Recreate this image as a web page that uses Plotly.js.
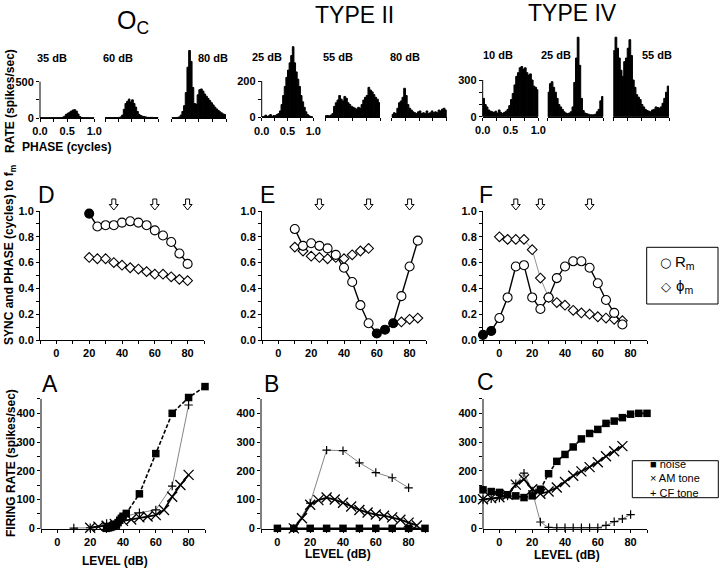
<!DOCTYPE html>
<html>
<head>
<meta charset="utf-8">
<script src="https://cdn.plot.ly/plotly-3.0.1.min.js"></script>
<style>html,body{margin:0;padding:0;background:#fff;}#chart{width:720px;height:570px;}</style>
</head>
<body>
<div id="chart"></div>
<script>
// ---------- DATA ----------
// phase bins (cycles) for period histograms
const phaseBins = [0.015625,0.046875,0.078125,0.109375,0.140625,0.171875,0.203125,0.234375,0.265625,0.296875,0.328125,0.359375,0.390625,0.421875,0.453125,0.484375,0.515625,0.546875,0.578125,0.609375,0.640625,0.671875,0.703125,0.734375,0.765625,0.796875,0.828125,0.859375,0.890625,0.921875,0.953125,0.984375];
// O_C histograms (spikes/sec)
const histOc35 = [4,4,3,4,3,4,3,4,4,3,4,4,5,10,25,50,65,80,95,110,115,95,55,20,8,3,3,3,3,2,2,2];
const histOc60 = [5,5,6,5,5,6,5,5,8,15,40,120,200,230,260,220,250,200,150,90,50,35,25,20,15,8,8,8,8,6,6,6];
const histOc80 = [5,5,5,8,15,40,90,170,350,700,930,780,420,200,190,320,390,400,370,330,300,270,240,210,180,150,125,105,85,70,55,45];
// TYPE II histograms
const histII25 = [3,5,12,5,8,15,5,10,8,15,20,35,70,120,170,220,260,300,340,389,300,250,210,170,120,85,55,30,15,8,4,2];
const histII55 = [8,10,8,12,20,60,80,95,120,100,90,115,105,80,70,60,55,50,45,55,50,70,95,110,120,165,150,140,125,110,100,80];
const histII80 = [15,25,20,50,80,90,110,160,120,70,50,40,30,25,20,30,35,20,25,20,35,20,25,35,25,30,25,40,35,45,50,40];
// TYPE IV histograms
const histIV10 = [150,100,80,55,45,40,35,45,30,55,35,25,35,45,60,90,140,190,260,330,360,400,410,390,400,360,340,350,300,250,240,220];
const histIV25 = [200,270,286,240,200,150,100,80,60,40,30,25,30,40,80,280,480,650,420,150,50,30,25,20,15,15,15,20,40,60,130,165];
const histIV55 = [540,650,560,480,380,330,450,480,560,630,500,300,240,180,160,140,100,80,60,50,45,40,55,60,80,75,70,80,110,150,200,250];

// Panel D (O_C): sync (R_m) and phase (phi_m) vs level
const dLevels = [20,25,30,35,40,45,50,55,60,65,70,75,80];
const dSync   = [0.98,0.88,0.89,0.89,0.91,0.92,0.91,0.89,0.85,0.81,0.76,0.67,0.59];
const dPhase  = [0.64,0.63,0.63,0.60,0.58,0.56,0.55,0.53,0.51,0.51,0.49,0.47,0.46];
const dNotSig = [20];
const dArrows = [35,60,80];
// Panel E (TYPE II)
const eLevels = [10,15,20,25,30,35,40,45,50,55,60,65,70,75,80,85];
const eSync   = [0.86,0.73,0.75,0.73,0.71,0.66,0.56,0.45,0.27,0.13,0.05,0.08,0.13,0.34,0.57,0.77];
const ePhaseLevels = [10,15,20,25,30,35,40,45,50,55,75,80,85];
const ePhase  = [0.72,0.69,0.65,0.64,0.63,0.64,0.63,0.66,0.69,0.71,0.14,0.16,0.17];
const eNotSig = [60,65,70];
const eArrows = [25,55,80];
// Panel F (TYPE IV)
const fLevels = [-10,-5,0,5,10,15,20,25,30,35,40,45,50,55,60,65,70,75];
const fSync   = [0.04,0.07,0.17,0.33,0.57,0.58,0.33,0.24,0.33,0.48,0.57,0.61,0.61,0.56,0.44,0.31,0.21,0.12];
const fPhaseLevels = [0,5,10,15,20,25,30,35,40,45,50,55,60,65,70,75];
const fPhase  = [0.80,0.78,0.78,0.78,0.70,0.48,0.33,0.29,0.27,0.23,0.21,0.20,0.18,0.17,0.16,0.15];
const fNotSig = [-10,-5];
const fArrows = [10,25,55];

// Panel A (O_C) firing rate vs level
const aNoiseLevels = [30,31,32,33,34,35,36,37,38,39,40,42,50,60,70,80,90];
const aNoise = [0,2,3,5,7,10,14,20,28,35,42,52,120,260,400,455,493];
const aAMLevels = [20,25,30,35,40,45,50,55,60,65,70,75,80];
const aAM = [2,6,9,15,26,31,38,41,46,64,110,151,186];
const aCFLevels = [10,20,30,40,50,60,70,80];
const aCF = [1,2,17,40,54,64,147,429];
// Panel B (TYPE II)
const bNoiseLevels = [0,10,20,30,40,50,60,70,80,90];
const bNoise = [0,0,0,0,0,0,0,0,0,0];
const bAMLevels = [10,15,20,25,30,35,40,45,50,55,60,65,70,75,80,85];
const bAM = [0,35,82,98,107,100,89,76,64,55,48,44,38,30,20,10];
const bCFLevels = [10,20,30,40,50,60,70,80];
const bCF = [0,88,272,270,228,194,176,141];
// Panel C (TYPE IV)
const cNoiseLevels = [-10,-5,0,5,10,15,20,25,30,35,40,45,50,55,60,65,70,75,80,85,90];
const cNoise = [134,128,125,117,113,107,113,136,190,233,257,283,311,330,344,365,373,385,397,400,400];
const cAMLevels = [-10,-5,0,5,10,15,20,25,30,35,40,45,50,55,60,65,70,75];
const cAM = [101,105,108,117,152,171,136,120,128,142,161,183,198,213,230,251,268,286];
const cCFLevels = [-10,-5,0,5,10,15,20,25,30,35,40,45,50,55,60,65,70,75,80];
const cCF = [100,103,105,112,155,192,130,22,3,2,2,2,2,2,2,10,23,33,48];

// ---------- DRAWING ----------
const W = 720, H = 570;
const FONT = 'Liberation Sans, Arial, Helvetica, sans-serif';
const xd = (a, b) => [a / W, b / W];
const yd = (top, bottom) => [1 - bottom / H, 1 - top / H];
const px = v => v / W, py = v => 1 - v / H;

const traces = [];
const layout = {
  width: W, height: H, autosize: false,
  margin: {l: 0, r: 0, t: 0, b: 0, pad: 0},
  paper_bgcolor: '#fff', plot_bgcolor: 'rgba(0,0,0,0)',
  showlegend: false, bargap: 0,
  font: {family: FONT, color: '#000'},
  shapes: [], annotations: []
};
const tickFont = {family: FONT, size: 11, color: '#000', weight: 'bold'};

function axName(n, k) { return k + 'axis' + (n === 1 ? '' : n); }
function ref(n, k) { return k + (n === 1 ? '' : n); }

// histograms
const histGroups = [
  {data: [histOc35, histOc60, histOc80], labels: ['35 dB','60 dB','80 dB'],
   xs: [[40,94.3],[105,158.3],[171.7,226]], ytop: 45.4, ybot: 118, ymax: 1000,
   yticks: [0,250,500], ytext: ['0','','500'], ylineTop: 500,
   labelPos: [[52,58],[118.3,58],[213.3,58]]},
  {data: [histII25, histII55, histII80], labels: ['25 dB','55 dB','80 dB'],
   xs: [[261.7,313.3],[325,380],[391.7,446.7]], ytop: 44.7, ybot: 117.3, ymax: 400,
   yticks: [0,100,200], ytext: ['0','','200'], ylineTop: 200,
   labelPos: [[266.7,56.7],[338.3,56.7],[405,56.7]]},
  {data: [histIV10, histIV25, histIV55], labels: ['10 dB','25 dB','55 dB'],
   xs: [[482.7,538.3],[547.7,603.3],[613.3,669]], ytop: 31.1, ybot: 116.7, ymax: 700,
   yticks: [0,100,200,300], ytext: ['0','','','300'], ylineTop: 300,
   labelPos: [[498.3,55],[556,55],[656.7,55]]}
];
let n = 1;
histGroups.forEach(g => {
  g.data.forEach((vals, i) => {
    const first = i === 0;
    traces.push({type: 'bar', x: phaseBins, y: vals, xaxis: ref(n,'x'), yaxis: ref(n,'y'),
      marker: {color: '#000', line: {color: '#000', width: 1}}, hoverinfo: 'skip'});
    layout[axName(n,'x')] = {domain: xd(g.xs[i][0], g.xs[i][1]), range: [0,1], anchor: ref(n,'y'),
      showline: true, linecolor: '#000', linewidth: 1, ticks: 'outside', ticklen: 3, tickwidth: 1, tickcolor: '#000',
      tickvals: [0,0.25,0.5,0.75,1], ticktext: first ? ['0.0','','0.5','','1.0'] : ['','','','',''],
      showgrid: false, zeroline: false, tickfont: tickFont, fixedrange: true};
    layout[axName(n,'y')] = {domain: yd(g.ytop, g.ybot), range: [0, g.ymax], anchor: ref(n,'x'),
      showline: false, ticks: first ? 'outside' : '', ticklen: 3, tickwidth: 1, tickcolor: '#000',
      tickvals: first ? g.yticks : [], ticktext: first ? g.ytext : [], showticklabels: first,
      showgrid: false, zeroline: false, tickfont: tickFont, fixedrange: true};
    if (first) {
      layout.shapes.push({type: 'line', xref: ref(n,'x') + ' domain', yref: ref(n,'y'),
        x0: 0, x1: 0, y0: 0, y1: g.ylineTop, line: {color: '#000', width: 1}});
    }
    layout.annotations.push({xref: 'paper', yref: 'paper', x: px(g.labelPos[i][0]), y: py(g.labelPos[i][1]),
      text: g.labels[i], showarrow: false, xanchor: 'center', yanchor: 'middle',
      font: {family: FONT, size: 11, weight: 'bold', color: '#000'}});
    n++;
  });
});

// sync/phase panels
const levelTicks = [-10,0,10,20,30,40,50,60,70,80,90];
const levelText = ['','0','','20','','40','','60','','80',''];
const ARROW_PATH = 'M-2,12 L2,12 L2,6.5 L4.5,6.5 L0,1 L-4.5,6.5 L-2,6.5 Z';
const SYNC_TOP = 211, SYNC_BOT = 340;
const syncPanels = [
  {x: [40,204], lv: dLevels, s: dSync, pl: dLevels, p: dPhase, ns: dNotSig, arrows: dArrows, phaseLine: false, letter: 'D', lpos: [46.3,195]},
  {x: [262,426], lv: eLevels, s: eSync, pl: ePhaseLevels, p: ePhase, ns: eNotSig, arrows: eArrows, phaseLine: false, letter: 'E', lpos: [267,195]},
  {x: [483,647], lv: fLevels, s: fSync, pl: fPhaseLevels, p: fPhase, ns: fNotSig, arrows: fArrows, phaseLine: true, letter: 'F', lpos: [486,195]}
];
syncPanels.forEach(P => {
  const xr = ref(n,'x'), yr = ref(n,'y');
  layout[axName(n,'x')] = {domain: xd(P.x[0], P.x[1]), range: [-10,90], anchor: yr,
    showline: true, linecolor: '#000', linewidth: 1, ticks: 'outside', ticklen: 3, tickwidth: 1, tickcolor: '#000',
    tickvals: levelTicks, ticktext: levelText, showgrid: false, zeroline: false, tickfont: tickFont, fixedrange: true};
  layout[axName(n,'y')] = {domain: yd(SYNC_TOP, SYNC_BOT), range: [0,1], anchor: xr,
    showline: true, linecolor: '#000', linewidth: 1, ticks: 'outside', ticklen: 3, tickwidth: 1, tickcolor: '#000',
    tickvals: [0,0.1,0.2,0.3,0.4,0.5,0.6,0.7,0.8,0.9,1.0],
    ticktext: ['0.0','','0.2','','0.4','','0.6','','0.8','','1.0'],
    showgrid: false, zeroline: false, tickfont: tickFont, fixedrange: true};
  if (P.phaseLine) {
    traces.push({type: 'scatter', mode: 'lines', x: P.pl, y: P.p, xaxis: xr, yaxis: yr,
      line: {color: '#777', width: 0.8}, hoverinfo: 'skip'});
  }
  traces.push({type: 'scatter', mode: 'markers', x: P.pl, y: P.p, xaxis: xr, yaxis: yr, cliponaxis: false,
    marker: {symbol: 'diamond', size: 7.5, color: '#fff', line: {color: '#000', width: 1.1}}, hoverinfo: 'skip'});
  traces.push({type: 'scatter', mode: 'lines', x: P.lv, y: P.s, xaxis: xr, yaxis: yr,
    line: {color: '#000', width: 1.4}, hoverinfo: 'skip'});
  traces.push({type: 'scatter', mode: 'markers', x: P.lv, y: P.s, xaxis: xr, yaxis: yr, cliponaxis: false,
    marker: {symbol: 'circle', size: 9, color: P.lv.map(v => P.ns.includes(v) ? '#000' : '#fff'),
      line: {color: '#000', width: 1.1}}, hoverinfo: 'skip'});
  // open down-arrows marking the histogram levels (x from data, y in paper above the axis top)
  P.arrows.forEach(a => layout.shapes.push({type: 'path', xref: xr, yref: 'paper',
    xsizemode: 'pixel', ysizemode: 'pixel', xanchor: a, yanchor: py(SYNC_TOP), path: ARROW_PATH,
    line: {color: '#000', width: 1}, fillcolor: '#fff'}));
  layout.annotations.push({xref: 'paper', yref: 'paper', x: px(P.lpos[0]), y: py(P.lpos[1]), text: P.letter,
    showarrow: false, xanchor: 'center', yanchor: 'middle', font: {family: FONT, size: 23, color: '#000'}});
  n++;
});

// firing-rate panels
const ratePanels = [
  {x: [41,205], nl: aNoiseLevels, nv: aNoise, ml: aAMLevels, mv: aAM, cl: aCFLevels, cv: aCF, dash: 'dash', letter: 'A', lpos: [50,384], tpos: [115,561]},
  {x: [261,425], nl: bNoiseLevels, nv: bNoise, ml: bAMLevels, mv: bAM, cl: bCFLevels, cv: bCF, dash: 'solid', letter: 'B', lpos: [271.7,384], tpos: [338.3,554]},
  {x: [483,647], nl: cNoiseLevels, nv: cNoise, ml: cAMLevels, mv: cAM, cl: cCFLevels, cv: cCF, dash: 'dash', letter: 'C', lpos: [485.7,382], tpos: [566.7,555]}
];
ratePanels.forEach(P => {
  const xr = ref(n,'x'), yr = ref(n,'y');
  layout[axName(n,'x')] = {domain: xd(P.x[0], P.x[1]), range: [-10,90], anchor: yr,
    showline: true, linecolor: '#000', linewidth: 1, ticks: 'outside', ticklen: 3, tickwidth: 1, tickcolor: '#000',
    tickvals: levelTicks, ticktext: levelText, showgrid: false, zeroline: false, tickfont: tickFont, fixedrange: true};
  layout[axName(n,'y')] = {domain: [0.07158, 0.33035], range: [-3,510], anchor: xr,
    showline: false, ticks: 'outside', ticklen: 3, tickwidth: 1, tickcolor: '#000',
    tickvals: [0,50,100,150,200,250,300,350,400,450],
    ticktext: ['0','','100','','200','','300','','400',''],
    showgrid: false, zeroline: false, tickfont: tickFont, fixedrange: true};
  layout.shapes.push({type: 'line', xref: xr + ' domain', yref: yr, x0: 0, x1: 0, y0: -3, y1: 450,
    line: {color: '#000', width: 1}});
  traces.push({type: 'scatter', mode: 'lines', x: P.cl, y: P.cv, xaxis: xr, yaxis: yr,
    line: {color: '#666', width: 0.8}, hoverinfo: 'skip'});
  traces.push({type: 'scatter', mode: 'lines', x: P.nl, y: P.nv, xaxis: xr, yaxis: yr,
    line: {color: '#000', width: 1.6, dash: P.dash === 'dash' ? '4px,2px' : 'solid'}, hoverinfo: 'skip'});
  traces.push({type: 'scatter', mode: 'lines', x: P.ml, y: P.mv, xaxis: xr, yaxis: yr,
    line: {color: '#000', width: 1.8}, hoverinfo: 'skip'});
  traces.push({type: 'scatter', mode: 'markers', x: P.nl, y: P.nv, xaxis: xr, yaxis: yr, cliponaxis: false,
    marker: {symbol: 'square', size: 7.5, color: '#000'}, hoverinfo: 'skip'});
  traces.push({type: 'scatter', mode: 'markers', x: P.ml, y: P.mv, xaxis: xr, yaxis: yr, cliponaxis: false,
    marker: {symbol: 'x-thin-open', size: 10, color: '#000', line: {color: '#000', width: 1.3}}, hoverinfo: 'skip'});
  traces.push({type: 'scatter', mode: 'markers', x: P.cl, y: P.cv, xaxis: xr, yaxis: yr, cliponaxis: false,
    marker: {symbol: 'cross-thin-open', size: 6, color: '#000', line: {color: '#000', width: 1.2}}, hoverinfo: 'skip'});
  layout.annotations.push({xref: 'paper', yref: 'paper', x: px(P.lpos[0]), y: py(P.lpos[1]), text: P.letter,
    showarrow: false, xanchor: 'center', yanchor: 'middle', font: {family: FONT, size: 23, color: '#000'}});
  layout.annotations.push({xref: 'paper', yref: 'paper', x: px(P.tpos[0]), y: py(P.tpos[1]), text: 'LEVEL (dB)',
    showarrow: false, xanchor: 'center', yanchor: 'middle', font: {family: FONT, size: 12, weight: 'bold', color: '#000'}});
  n++;
});

// titles and axis labels
function ann(x, y, text, size, opts) {
  layout.annotations.push(Object.assign({xref: 'paper', yref: 'paper', x: px(x), y: py(y), text: text,
    showarrow: false, xanchor: 'center', yanchor: 'middle', font: {family: FONT, size: size, color: '#000'}}, opts || {}));
}
ann(133, 22, 'O<sub>C</sub>', 25);
ann(354, 15, 'TYPE II', 23);
ann(572, 13.5, 'TYPE IV', 23);
const boldAx = {family: FONT, size: 12, weight: 'bold', color: '#000'};
ann(10, 101, 'RATE (spikes/sec)', 12, {textangle: -90, font: boldAx});
ann(66, 147, 'PHASE (cycles)', 12, {font: boldAx});
ann(10, 255, 'SYNC and PHASE (cycles) to f<sub>m</sub>', 12, {textangle: -90, font: boldAx});
ann(11, 463, 'FIRING RATE (spikes/sec)', 12, {textangle: -90, font: boldAx});

// legend boxes (drawn as text + rectangles)
layout.shapes.push({type: 'rect', xref: 'paper', yref: 'paper', x0: px(646.7), x1: px(718), y0: py(304), y1: py(247.3),
  line: {color: '#000', width: 1}, fillcolor: 'rgba(0,0,0,0)'});
ann(665.5, 262, '\u25CB', 13, {font: {family: 'DejaVu Sans', size: 13, color: '#000'}});
ann(673, 262, 'R<sub>m</sub>', 15, {xanchor: 'left'});
ann(666, 286, '\u25C7', 13, {font: {family: 'DejaVu Sans', size: 13, color: '#000'}});
ann(674, 286, '\u03D5<sub>m</sub>', 15, {xanchor: 'left'});

layout.shapes.push({type: 'rect', xref: 'paper', yref: 'paper', x0: px(632.3), x1: px(718.3), y0: py(497.7), y1: py(460.7),
  line: {color: '#000', width: 1}, fillcolor: 'rgba(0,0,0,0)'});
ann(648, 479, '\u25A0 noise<br>\u00D7 AM tone<br>+ CF tone', 11,
  {xanchor: 'left', align: 'left', font: {family: FONT, size: 11, color: '#000'}});

Plotly.newPlot('chart', traces, layout, {staticPlot: true, displayModeBar: false});
</script>
</body>
</html>
